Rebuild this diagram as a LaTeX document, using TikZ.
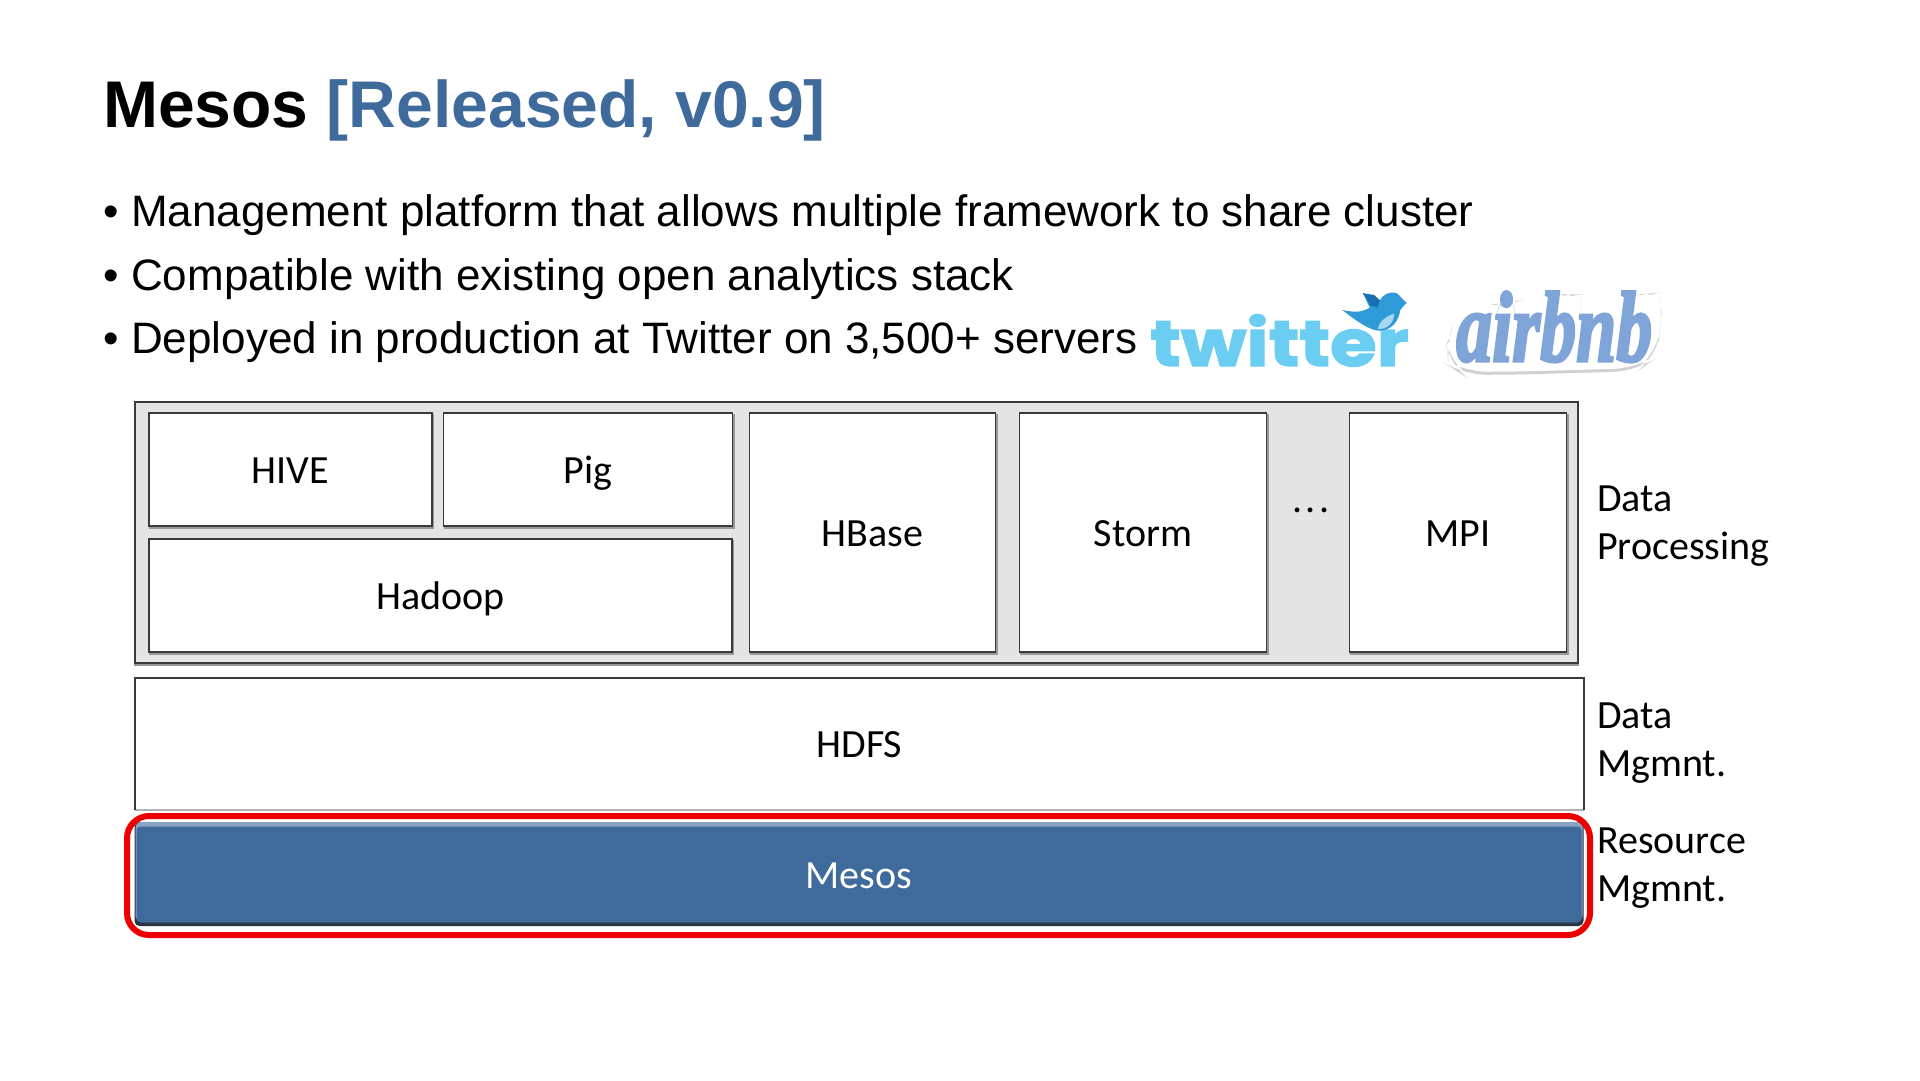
\documentclass[tikz,border=0pt]{standalone}
\usepackage{graphicx}
\usepackage{fontspec}
\setmainfont{Liberation Sans}
\newfontfamily\calib{Carlito}
\newfontfamily\twfont[BoldFeatures={FakeBold=2}]{Poppins}
\newfontfamily\abfont[BoldItalicFeatures={FakeBold=3}]{Liberation Serif}
\definecolor{mesosblue}{HTML}{3F6A9C}
\definecolor{mesostop}{HTML}{8AA5C4}
\definecolor{mesosbot}{HTML}{2B3442}
\definecolor{panel}{HTML}{E4E4E4}
\definecolor{edge}{HTML}{3A3A3A}
\definecolor{twblue}{HTML}{6CCDF2}
\definecolor{birdblue}{HTML}{2E9AD8}
\definecolor{birddark}{HTML}{1B6FB0}
\definecolor{birdlight}{HTML}{A9D8F2}
\definecolor{abblue}{HTML}{7EA4D8}
\tikzset{
  boxfont/.style={font=\calib\fontsize{40}{48}\selectfont,text height=27.5pt,text depth=0pt},
  stackbox/.style={draw=edge,fill=white,line width=1.3pt,inner sep=0pt,outer sep=0pt,boxfont,text=black,
    preaction={draw=black!40,line width=2pt,transform canvas={yshift=-1.8pt,xshift=1pt}}},
  sidelabel/.style={anchor=north west,align=left,inner sep=0pt,font=\calib\fontsize{40}{48}\selectfont,text=black},
  bullet/.style={anchor=base west,inner sep=0pt,font=\fontsize{44}{50}\selectfont,text=black},
  halo/.style={rounded corners=24pt},
}
\begin{document}
\begin{tikzpicture}[x=1pt,y=-1pt]
\useasboundingbox (0,0) rectangle (1920,1080);
\fill[white] (0,0) rectangle (1920,1080);
% title and bullets
\node[anchor=base west,inner sep=0pt,font=\bfseries\fontsize{66}{70}\selectfont] (title) at (103,127) {Mesos \textcolor{mesosblue}{[Released, v0.9]}};
\node[bullet] (b1) at (103,226) {\makebox[28pt][l]{•}Management platform that allows multiple framework to share cluster};
\node[bullet] (b2) at (103,290) {\makebox[28pt][l]{•}Compatible with existing open analytics stack};
\node[bullet] (b3) at (103,353) {\makebox[28pt][l]{•}Deployed in production at Twitter on 3,500+ servers};
% twitter logo
\node[anchor=base west,inner sep=0pt,text=twblue,font=\twfont\bfseries\fontsize{70}{70}\selectfont] (tw) at (1150,366) {\scalebox{1.08}[0.92]{twitter}};
\begin{scope}[shift={(1120,270)},x=.357pt,y=-.357pt]
\fill[birdblue] (622,112) .. controls (660,120) and (680,118) .. (700,105)
  .. controls (690,90) and (690,80) .. (680,65) .. controls (700,72) and (715,80) .. (728,85)
  .. controls (735,70) and (755,58) .. (775,65) .. controls (785,72) and (790,82) .. (803,92)
  .. controls (795,100) and (790,105) .. (785,112) .. controls (780,145) and (760,170) .. (725,170)
  .. controls (695,168) and (660,140) .. (622,112) -- cycle;
\fill[birddark] (680,65) -- (712,70) -- (728,85) -- (722,105) -- (702,100) -- cycle;
\fill[birdlight] (722,165) .. controls (725,145) and (745,130) .. (768,122) .. controls (768,145) and (750,168) .. (722,165) -- cycle;
\end{scope}
% airbnb logo
\begin{scope}[shift={(1120,270)},x=.357pt,y=-.357pt]
\fill[black!18,halo,yshift=-3pt] (915,200) -- (930,150) -- (1050,140) -- (1065,85) -- (1100,80) -- (1110,130) -- (1190,120) -- (1230,60) -- (1290,60) -- (1290,130) -- (1400,120) -- (1450,60) -- (1510,55) -- (1520,130) -- (1500,240) -- (1450,275) -- (1100,285) -- (960,285) -- (920,260) -- cycle;
\fill[white,halo] (915,200) -- (930,150) -- (1050,140) -- (1065,85) -- (1100,80) -- (1110,130) -- (1190,120) -- (1230,60) -- (1290,60) -- (1290,130) -- (1400,120) -- (1450,60) -- (1510,55) -- (1520,130) -- (1500,240) -- (1450,275) -- (1100,285) -- (960,285) -- (920,260) -- cycle;
\end{scope}
\node[anchor=base west,inner sep=0pt,text=abblue,font=\abfont\bfseries\itshape\fontsize{100}{100}\selectfont] (ab) at (1456,361) {\scalebox{0.72}[1]{airbnb}};
% data processing panel
\node[draw=edge,fill=panel,line width=1.5pt,inner sep=0pt,outer sep=0pt,minimum width=1443pt,minimum height=261pt,
  preaction={draw=black!40,line width=2pt,transform canvas={yshift=-1.8pt}}] (panel) at (856.5,532.5) {};
\node[stackbox,minimum width=283pt,minimum height=113pt] (hive) at (290.5,469.5) {HIVE};
\node[stackbox,minimum width=289pt,minimum height=113pt] (pig) at (588,469.5) {Pig};
\node[stackbox,minimum width=583pt,minimum height=113pt] (hadoop) at (440.5,595.5) {Hadoop};
\node[stackbox,minimum width=246pt,minimum height=239pt] (hbase) at (872.5,532.5) {HBase};
\node[stackbox,minimum width=247pt,minimum height=239pt] (storm) at (1143,532.5) {Storm};
\node[stackbox,minimum width=217pt,minimum height=239pt] (mpi) at (1458,532.5) {MPI};
\node[inner sep=0pt,font=\calib\fontsize{40}{48}\selectfont] (dots) at (1311,510) {.\kern3pt.\kern3pt.};
% HDFS
\node[fill=white,inner sep=0pt,outer sep=0pt,minimum width=1449pt,minimum height=132pt,boxfont] (hdfs) at (859.5,744) {HDFS};
\draw[black!30,line width=2pt] (hdfs.south west) -- (hdfs.south east);
\draw[edge,line width=1.6pt] (hdfs.south west) -- (hdfs.north west) -- (hdfs.north east) -- (hdfs.south east);
% Mesos
\node[fill=mesosbot,rounded corners=5pt,inner sep=0pt,outer sep=0pt,minimum width=1449pt,minimum height=104pt] (mesosbase) at (859,874) {};
\fill[mesostop,rounded corners=5pt] ([xshift=1pt]mesosbase.north west) rectangle ([xshift=-1pt,yshift=5pt]mesosbase.south east);
\node[fill=mesosblue,rounded corners=4pt,inner sep=0pt,outer sep=0pt,minimum width=1445pt,minimum height=96pt,text=white,boxfont] (mesos) at (859,874.5) {Mesos};
\node[draw=red!93!black,line width=6pt,rounded corners=22pt,inner sep=0pt,minimum width=1463pt,minimum height=119pt] (focus) at (858.5,875.5) {};
% side labels
\node[sidelabel] (lp) at (1597,486) {Data\\Processing};
\node[sidelabel] (lm) at (1597,703) {Data\\Mgmnt.};
\node[sidelabel] (lr) at (1597,828) {Resource\\Mgmnt.};
\end{tikzpicture}
\end{document}
